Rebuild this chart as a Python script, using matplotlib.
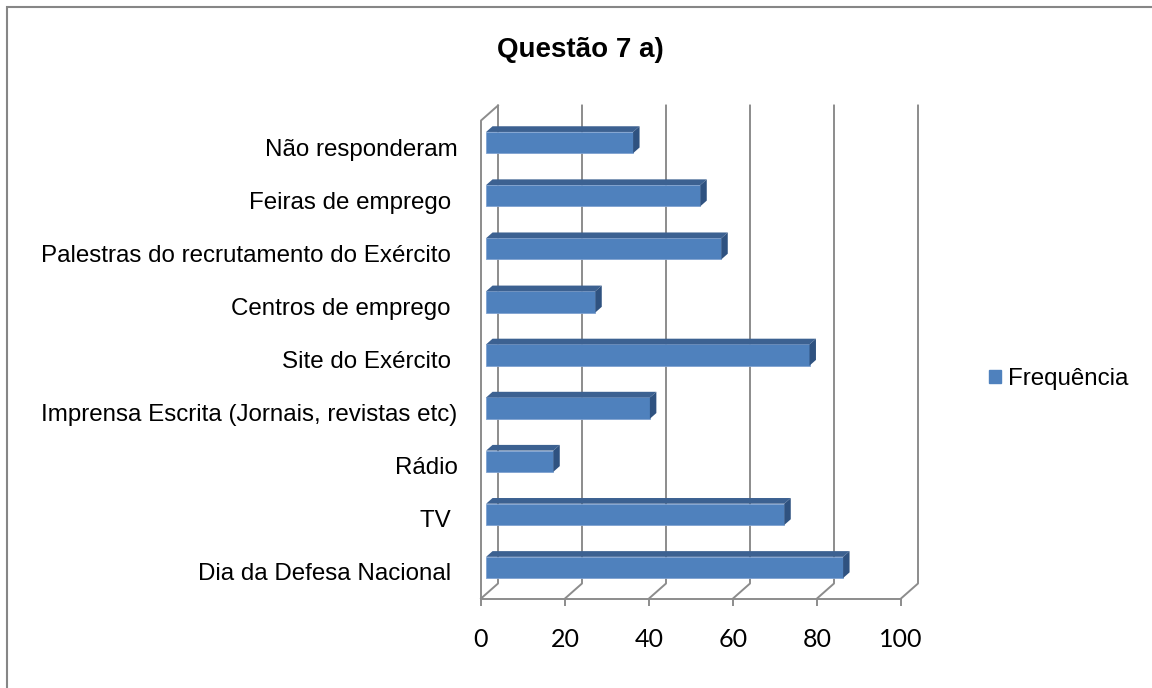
import matplotlib.pyplot as plt
from matplotlib.patches import Polygon, Patch, Rectangle
import numpy as np

# categories from bottom to top, as in the chart
categories = [
    "Dia da Defesa Nacional ", "TV ", "Rádio",
    "Imprensa Escrita (Jornais, revistas etc)", "Site do Exército ",
    "Centros de emprego ", "Palestras do recrutamento do Exército ",
    "Feiras de emprego ", "Não responderam"
]
frequencia = [85, 71, 16, 39, 77, 26, 56, 51, 35]
xticks = [0, 20, 40, 60, 80, 100]

W, H = 1152, 688
fig = plt.figure(figsize=(W / 100, H / 100), dpi=100)

# pseudo 3D depth offsets in data units
DX = 17 / 4.2
DY = 15 / 53.1
grid_col = "#8c8c8c"

ax = fig.add_axes([481 / W, 1 - 598.5 / H, 437 / W, 495.5 / H])
ax.set_xlim(0, 100 * 437 / 420)
ax.set_ylim(-0.5, 8.83)
for s in ax.spines.values():
    s.set_visible(False)

# back wall gridlines + floor diagonals
for t in xticks:
    ax.plot([t, t + DX, t + DX], [-0.5, -0.5 + DY, 8.5 + DY],
            color=grid_col, lw=1.4, clip_on=False, zorder=1)
# front floor edge and left wall
ax.plot([0, 100], [-0.5, -0.5], color=grid_col, lw=1.4, clip_on=False)
ax.plot([0, 0, DX], [-0.5, 8.5, 8.5 + DY], color=grid_col, lw=1.4,
        clip_on=False)

# bars
y = np.arange(len(categories))
d0, d1 = 0.3, 0.68
bh = 0.4
ax.barh(y + d0 * DY, frequencia, left=d0 * DX, height=bh, color="#4f81bd",
        edgecolor="#7fa2d0", lw=0.6, zorder=3)
for yi, v in zip(y, frequencia):
    top = yi + d0 * DY + bh / 2
    bot = yi + d0 * DY - bh / 2
    ddx, ddy = (d1 - d0) * DX, (d1 - d0) * DY
    ax.add_patch(Polygon([(d0 * DX, top), (v + d0 * DX, top),
                          (v + d0 * DX + ddx, top + ddy),
                          (d0 * DX + ddx, top + ddy)],
                         closed=True, fc="#3c6191", ec="none", zorder=3))
    ax.add_patch(Polygon([(v + d0 * DX, bot), (v + d0 * DX + ddx, bot + ddy),
                          (v + d0 * DX + ddx, top + ddy), (v + d0 * DX, top)],
                         closed=True, fc="#2f5280", ec="none", zorder=3))

ax.set_yticks(y)
ax.set_yticklabels(categories, fontsize=17.4, family="Liberation Sans")
ax.tick_params(axis="y", length=0, pad=17)
ax.set_xticks(xticks)
ax.set_xticklabels([str(t) for t in xticks], fontsize=18, family="Lato")
ax.tick_params(axis="x", length=5, width=1.4, color=grid_col, pad=16)

fig.suptitle("Questão 7 a)", x=580 / W, y=1 - 37 / H, fontsize=20,
             fontweight="bold", family="Liberation Sans")

fig.legend(handles=[Patch(color="#4f81bd", label="Frequência")],
           loc="center left", bbox_to_anchor=(967 / W, 1 - 379 / H),
           frameon=False, prop={"family": "Liberation Sans", "size": 17.4},
           handlelength=0.5, handleheight=0.5, handletextpad=0.3)

# chart border
fig.patches.append(Rectangle((7 / W, -0.1), 1.2, 1 - 7 / H + 0.1,
                             transform=fig.transFigure, fill=False,
                             ec="#868686", lw=1.5))

fig.savefig("out.png", dpi=100)
